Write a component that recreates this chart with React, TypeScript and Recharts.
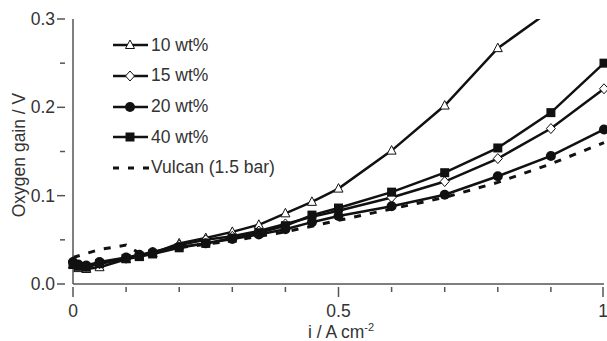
import { LineChart, Line, XAxis, YAxis } from 'recharts';

const currents = [0, 0.01, 0.025, 0.05, 0.1, 0.125, 0.15, 0.2, 0.25, 0.3, 0.35, 0.4, 0.45, 0.5, 0.6, 0.7, 0.8, 0.9, 1.0];
const gain10 = [0.022, 0.018, 0.017, 0.019, 0.028, 0.031, 0.035, 0.046, 0.052, 0.059, 0.067, 0.08, 0.093, 0.108, 0.151, 0.202, 0.267, 0.31, null];
const gain15 = [0.025, 0.021, 0.02, 0.023, 0.029, 0.032, 0.036, 0.044, 0.05, 0.054, 0.06, 0.068, 0.076, 0.083, 0.098, 0.116, 0.142, 0.176, 0.221];
const gain20 = [0.025, 0.022, 0.021, 0.025, 0.03, 0.033, 0.036, 0.042, 0.046, 0.051, 0.056, 0.062, 0.07, 0.077, 0.088, 0.101, 0.122, 0.145, 0.175];
const gain40 = [0.022, 0.02, 0.019, 0.023, 0.029, 0.031, 0.034, 0.041, 0.046, 0.052, 0.058, 0.066, 0.078, 0.086, 0.104, 0.126, 0.154, 0.194, 0.25];

const vulcanCurrents = [0, 0.05, 0.1, 0.125, 0.2, 0.3, 0.4, 0.5, 0.6, 0.7, 0.8, 0.9, 1.0];
const vulcanGain = [0.03, 0.039, 0.044, 0.035, 0.041, 0.049, 0.059, 0.072, 0.085, 0.098, 0.115, 0.136, 0.16];

const yTicks = [0, 0.05, 0.1, 0.15, 0.2, 0.25, 0.3];
const xTicks = [0, 0.1, 0.2, 0.3, 0.4, 0.5, 0.6, 0.7, 0.8, 0.9, 1];

const toPoints = (xs: number[], ys: (number | null)[]) => xs.map((x, i) => ({ x, y: ys[i] }));

const INK = '#111';
const AXIS = '#555';
const TEXT = '#333';
const FONT = '"Liberation Sans", Arial, sans-serif';
const FS = 17.5;

function Marker({ kind, cx, cy }: { kind: string; cx: number; cy: number }) {
    if (kind === 'triangle') {
        return <path d={`M${cx},${cy - 5}L${cx + 4.5},${cy + 3.5}L${cx - 4.5},${cy + 3.5}Z`} fill="#fff" stroke={INK} strokeWidth={1} />;
    }
    if (kind === 'diamond') {
        return <path d={`M${cx},${cy - 5}L${cx + 4.5},${cy}L${cx},${cy + 5}L${cx - 4.5},${cy}Z`} fill="#fff" stroke={INK} strokeWidth={1} />;
    }
    if (kind === 'circle') {
        return <circle cx={cx} cy={cy} r={5} fill={INK} />;
    }
    return <rect x={cx - 4.5} y={cy - 4.5} width={9} height={9} fill={INK} />;
}

const makeDot = (kind: string) => (props: any) => {
    const { cx, cy, index, payload } = props;
    if (cx == null || cy == null || payload.y == null || payload.y > 0.3) return <g key={index} />;
    return (
        <g key={index}>
            <Marker kind={kind} cx={cx} cy={cy} />
        </g>
    );
};

function YTick({ x, y, payload }: any) {
    const major = Math.round(payload.value * 100) % 10 === 0;
    return (
        <g>
            <line x1={x + (major ? -8 : -5)} x2={x} y1={y} y2={y} stroke={AXIS} strokeWidth={1.5} />
            {major && (
                <text x={x - 10} y={y} dy={6} textAnchor="end" fill={TEXT} fontSize={FS} fontFamily={FONT}>
                    {payload.value.toFixed(1)}
                </text>
            )}
        </g>
    );
}

function XTick({ x, y, payload }: any) {
    const v = payload.value;
    const major = v === 0 || v === 0.5 || v === 1;
    return (
        <g>
            <line x1={x} x2={x} y1={y - 5} y2={major ? y + 5 : y} stroke={AXIS} strokeWidth={1.5} />
            {major && (
                <text x={x} y={y + 25} textAnchor="middle" fill={TEXT} fontSize={FS} fontFamily={FONT}>
                    {String(v)}
                </text>
            )}
        </g>
    );
}

const series = [
    { name: '10 wt%', kind: 'triangle', values: gain10 },
    { name: '15 wt%', kind: 'diamond', values: gain15 },
    { name: '20 wt%', kind: 'circle', values: gain20 },
    { name: '40 wt%', kind: 'square', values: gain40 },
];

function LegendBox() {
    return (
        <div style={{ position: 'absolute', left: 110, top: 30, fontFamily: FONT, fontSize: FS, color: TEXT, lineHeight: 1 }}>
            {series.map((s) => (
                <div key={s.name} style={{ display: 'flex', alignItems: 'center', height: 30.7 }}>
                    <svg width={40} height={14}>
                        <line x1={3} x2={38} y1={7} y2={7} stroke={INK} strokeWidth={2.5} />
                        <Marker kind={s.kind} cx={20} cy={7} />
                    </svg>
                    <span style={{ marginLeft: 1 }}>{s.name}</span>
                </div>
            ))}
            <div style={{ display: 'flex', alignItems: 'center', height: 30.7 }}>
                <svg width={41} height={14}>
                    <line x1={3} x2={40} y1={7} y2={7} stroke={INK} strokeWidth={3} strokeDasharray="6 9" />
                </svg>
                <span>Vulcan (1.5 bar)</span>
            </div>
        </div>
    );
}

export default function App() {
    return (
        <div style={{ position: 'absolute', left: 0, top: 0, width: 607, height: 341, background: '#fff' }}>
            <LineChart width={607} height={341} margin={{ top: 19, right: 3, left: 0, bottom: 0 }}>
                <XAxis
                    xAxisId="main"
                    dataKey="x"
                    type="number"
                    domain={[0, 1]}
                    ticks={xTicks}
                    tick={<XTick />}
                    tickLine={false}
                    axisLine={{ stroke: AXIS, strokeWidth: 1.5 }}
                    height={57}
                    allowDuplicatedCategory={false}
                />
                <XAxis xAxisId="top" orientation="top" type="number" domain={[0, 1]} tick={false} tickLine={false} axisLine={{ stroke: AXIS, strokeWidth: 1.5 }} height={0} />
                <YAxis
                    yAxisId="main"
                    type="number"
                    domain={[0, 0.3]}
                    ticks={yTicks}
                    tick={<YTick />}
                    tickLine={false}
                    axisLine={{ stroke: AXIS, strokeWidth: 1.5 }}
                    width={73}
                    allowDataOverflow
                />
                <YAxis yAxisId="right" orientation="right" type="number" domain={[0, 0.3]} tick={false} tickLine={false} axisLine={{ stroke: AXIS, strokeWidth: 1.5 }} width={0} />
                {series.map((s) => (
                    <Line
                        key={s.name}
                        xAxisId="main"
                        yAxisId="main"
                        data={toPoints(currents, s.values)}
                        dataKey="y"
                        name={s.name}
                        stroke={INK}
                        strokeWidth={2.5}
                        dot={makeDot(s.kind)}
                        activeDot={false}
                        type="linear"
                        isAnimationActive={false}
                    />
                ))}
                <Line
                    xAxisId="main"
                    yAxisId="main"
                    data={toPoints(vulcanCurrents, vulcanGain)}
                    dataKey="y"
                    name="Vulcan (1.5 bar)"
                    stroke={INK}
                    strokeWidth={3}
                    strokeDasharray="7 9"
                    dot={false}
                    activeDot={false}
                    type="linear"
                    isAnimationActive={false}
                />
                <text x={19} y={155} transform="rotate(-90 19 155)" textAnchor="middle" dominantBaseline="central" fill={TEXT} fontSize={FS} fontFamily={FONT}>
                    Oxygen gain / V
                </text>
                <text x={341} y={338} textAnchor="middle" fill={TEXT} fontSize={FS} fontFamily={FONT}>
                    <tspan>i / A cm</tspan>
                    <tspan dy={-7} fontSize={11}>-2</tspan>
                </text>
            </LineChart>
            <LegendBox />
        </div>
    );
}
